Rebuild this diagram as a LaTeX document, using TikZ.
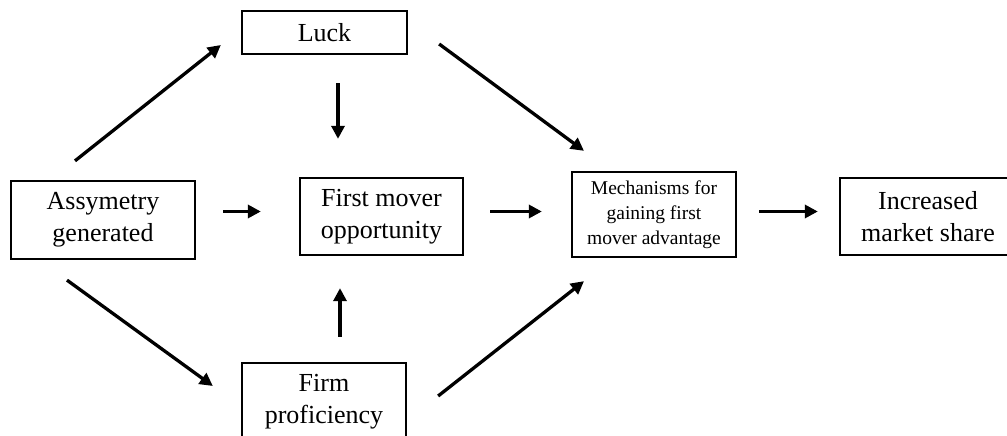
\documentclass[tikz,border=0pt]{standalone}
\usepackage{fontspec}
\setmainfont{Liberation Serif}
\usetikzlibrary{calc,arrows.meta}
\tikzset{
  box/.style={draw=black, line width=2.3pt, inner sep=0pt, align=center,
    font=\fontsize{26}{32}\selectfont},
  smallbox/.style={box, font=\fontsize{19.5}{25}\selectfont},
  arr/.style={line width=3.3pt, -{Triangle[length=13pt,width=13pt]}}
}
\begin{document}
\begin{tikzpicture}[x=1pt,y=-1pt]
\useasboundingbox (0,0) rectangle (1007,436);
\node[box, minimum width=165pt, minimum height=43pt] (L) at (324.5,32.5) {Luck};
\node[box, minimum width=184pt, minimum height=78pt] (A) at (103,220) {Assymetry\\generated};
\node[box, minimum width=163pt, minimum height=77pt] (FM) at (381.5,216.5) {First mover\\opportunity};
\node[smallbox, minimum width=164pt, minimum height=85pt] (M) at (654,214.5) {Mechanisms for\\gaining first\\mover advantage};
\node[box, minimum width=176pt, minimum height=77pt] (I) at (928,216.5) {Increased\\market share};
\node[box, minimum width=164pt, minimum height=77pt] (F) at (324,401.5) {Firm\\proficiency};
% connectors
\draw[arr] ($(A.north)+(-28,-19)$) -- ($(L.west)+(-20,12.5)$);
\draw[arr] ($(L.south)+(13.5,28)$) -- ($(FM.north)+(-43.5,-38)$);
\draw[arr] ($(L.east)+(31,11.5)$) -- ($(M.north)+(-70,-20)$);
\draw[arr] ($(A.east)+(27,-8.5)$) -- ($(FM.west)+(-38,-5)$);
\draw[arr] ($(FM.east)+(26,-5)$) -- ($(M.west)+(-29,-3)$);
\draw[arr] ($(M.east)+(22,-3)$) -- ($(I.west)+(-21,-5)$);
\draw[arr] ($(A.south)+(-36,20)$) -- ($(F.west)+(-28,-15.5)$);
\draw[arr] ($(F.north)+(16,-25)$) -- ($(FM.south)+(-41.5,32)$);
\draw[arr] ($(F.east)+(31,-5.5)$) -- ($(M.south)+(-70,23)$);
\end{tikzpicture}
\end{document}
